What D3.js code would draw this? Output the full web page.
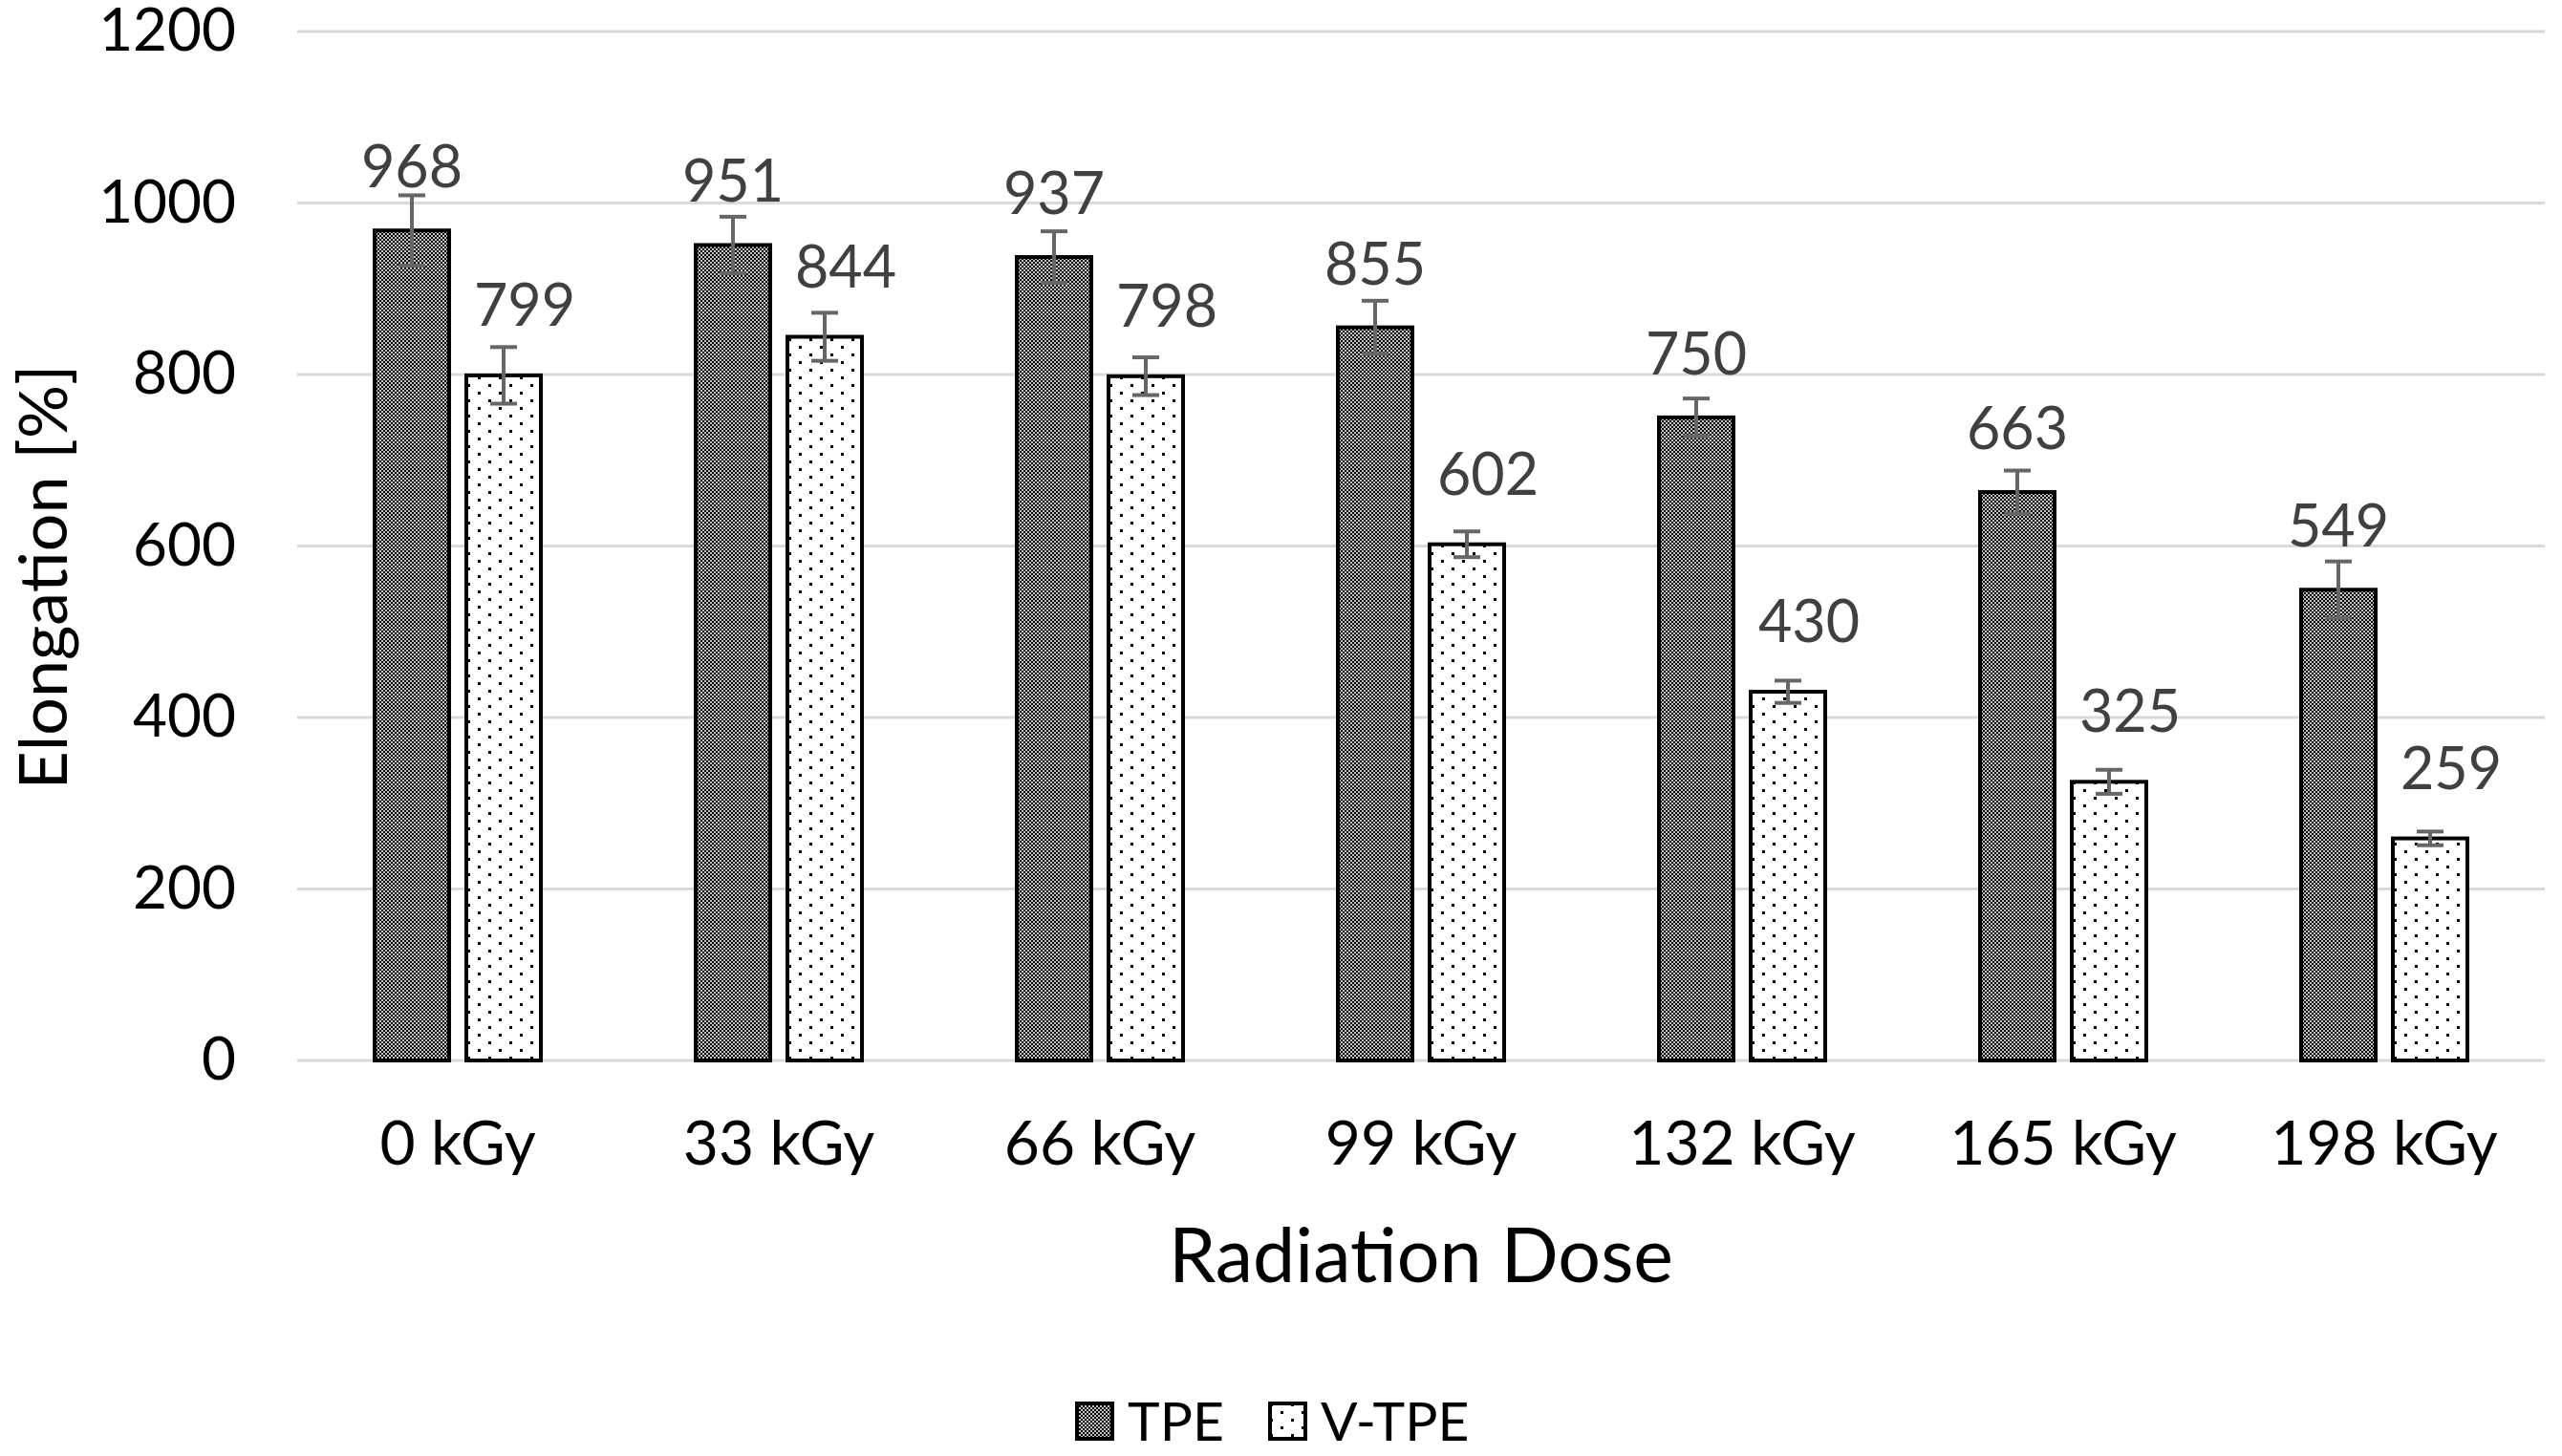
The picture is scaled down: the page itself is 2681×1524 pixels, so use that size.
<!DOCTYPE html>
<html>
<head>
<meta charset="utf-8">
<script src="https://cdnjs.cloudflare.com/ajax/libs/d3/7.8.5/d3.min.js"></script>
<style>
  html, body { margin: 0; padding: 0; background: #fff; }
  text { font-family: Lato, "Open Sans", sans-serif; }
</style>
</head>
<body>
<div id="chart"></div>
<script>
// Elongation vs radiation dose
const categories = ["0 kGy", "33 kGy", "66 kGy", "99 kGy", "132 kGy", "165 kGy", "198 kGy"];
const seriesNames = ["TPE", "V-TPE"];
const tpeValues = [968, 951, 937, 855, 750, 663, 549];
const vtpeValues = [799, 844, 798, 602, 430, 325, 259];
const tpeErrors = [41, 33, 30, 31, 22, 25, 33];
const vtpeErrors = [33, 28, 22, 15, 13, 14, 8];
const yTicks = [0, 200, 400, 600, 800, 1000, 1200];

const width = 2681;
const height = 1524;

const svg = d3.select("#chart")
  .append("svg")
  .attr("width", width)
  .attr("height", height);

const defs = svg.append("defs");

// dark checker fill for TPE
const pTpe = defs.append("pattern")
  .attr("id", "pat-tpe")
  .attr("patternUnits", "userSpaceOnUse")
  .attr("width", 4).attr("height", 4);
pTpe.append("rect").attr("width", 4).attr("height", 4).attr("fill", "#c4c4c4");
pTpe.append("rect").attr("width", 2).attr("height", 2).attr("fill", "#000");
pTpe.append("rect").attr("x", 2).attr("y", 2).attr("width", 2).attr("height", 2).attr("fill", "#000");

// sparse dots for V-TPE
const pV = defs.append("pattern")
  .attr("id", "pat-vtpe")
  .attr("patternUnits", "userSpaceOnUse")
  .attr("width", 22).attr("height", 16);
pV.append("rect").attr("width", 22).attr("height", 16).attr("fill", "#fff");
pV.append("rect").attr("x", 2).attr("y", 2).attr("width", 3).attr("height", 3).attr("fill", "#000");
pV.append("rect").attr("x", 13).attr("y", 10).attr("width", 3).attr("height", 3).attr("fill", "#000");

const fills = { "TPE": "url(#pat-tpe)", "V-TPE": "url(#pat-vtpe)" };

const x0 = d3.scaleBand()
  .domain(categories)
  .range([311, 2663])
  .padding(0);

const x1 = d3.scaleBand()
  .domain(seriesNames)
  .range([81, x0.bandwidth() - 81])
  .paddingInner(0.1875);

const y = d3.scaleLinear()
  .domain([0, 1200])
  .range([1110, 33]);

// gridlines
svg.append("g")
  .selectAll("line")
  .data(yTicks)
  .enter()
  .append("line")
  .attr("x1", 311)
  .attr("x2", 2663)
  .attr("y1", d => y(d))
  .attr("y2", d => y(d))
  .style("stroke", "#d9d9d9")
  .style("stroke-width", 3);

// y axis labels
const yAxis = d3.axisLeft(y).tickValues(yTicks).tickFormat(d3.format("d")).tickSize(0).tickPadding(0);
const gy = svg.append("g")
  .attr("transform", "translate(247,0)")
  .call(yAxis);
gy.select(".domain").remove();
gy.selectAll("text")
  .style("font-family", "Lato, sans-serif")
  .style("font-size", "62px")
  .style("fill", "#000");

// x axis labels
const xAxis = d3.axisBottom(x0).tickSize(0).tickPadding(0);
const gx = svg.append("g")
  .attr("transform", "translate(0,1174)")
  .call(xAxis);
gx.select(".domain").remove();
gx.selectAll("text")
  .style("font-family", "Lato, sans-serif")
  .style("font-size", "64px")
  .style("fill", "#000");

// rows of data
const rows = categories.map((c, i) => ({
  cat: c,
  bars: [
    { s: "TPE", v: tpeValues[i], e: tpeErrors[i] },
    { s: "V-TPE", v: vtpeValues[i], e: vtpeErrors[i] }
  ]
}));

const groups = svg.append("g")
  .selectAll("g")
  .data(rows)
  .enter()
  .append("g")
  .attr("transform", d => "translate(" + x0(d.cat) + ",0)");

groups.selectAll("rect")
  .data(d => d.bars)
  .enter()
  .append("rect")
  .attr("x", d => x1(d.s))
  .attr("y", d => y(d.v))
  .attr("width", x1.bandwidth())
  .attr("height", d => y(0) - y(d.v))
  .style("fill", d => fills[d.s])
  .style("stroke", "#000")
  .style("stroke-width", 4);

// error bars
const err = groups.selectAll("g.err")
  .data(d => d.bars)
  .enter()
  .append("g")
  .attr("class", "err")
  .style("stroke", "#666")
  .style("stroke-width", 4);

const cx = d => x1(d.s) + x1.bandwidth() / 2;

err.append("line")
  .attr("x1", cx).attr("x2", cx)
  .attr("y1", d => y(d.v + d.e))
  .attr("y2", d => y(d.v - d.e));
err.append("line")
  .attr("x1", d => cx(d) - 14).attr("x2", d => cx(d) + 14)
  .attr("y1", d => y(d.v + d.e)).attr("y2", d => y(d.v + d.e));
err.append("line")
  .attr("x1", d => cx(d) - 14).attr("x2", d => cx(d) + 14)
  .attr("y1", d => y(d.v - d.e)).attr("y2", d => y(d.v - d.e));

// data labels
groups.selectAll("text.val")
  .data(d => d.bars)
  .enter()
  .append("text")
  .attr("class", "val")
  .attr("x", d => cx(d) + (d.s === "TPE" ? 0 : 22))
  .attr("y", d => y(d.v) - (d.s === "TPE" ? 45 : 52))
  .attr("text-anchor", "middle")
  .style("font-size", "61px")
  .style("fill", "#404040")
  .text(d => d.v);

// axis titles
svg.append("text")
  .attr("x", 1487)
  .attr("y", 1342)
  .attr("text-anchor", "middle")
  .style("font-size", "79px")
  .style("fill", "#000")
  .text("Radiation Dose");

svg.append("text")
  .attr("transform", "translate(70,604) rotate(-90)")
  .attr("text-anchor", "middle")
  .style("font-size", "70px")
  .style("fill", "#000")
  .text("Elongation [%]");

// legend
const legendX = [1125, 1327];
const legend = svg.append("g")
  .selectAll("g")
  .data(seriesNames)
  .enter()
  .append("g")
  .attr("transform", (d, i) => "translate(" + legendX[i] + ",1467)");

legend.append("rect")
  .attr("x", 2).attr("y", 2)
  .attr("width", 37).attr("height", 37)
  .style("fill", d => fills[d])
  .style("stroke", "#000")
  .style("stroke-width", 4);

legend.append("text")
  .attr("x", 55)
  .attr("y", 41)
  .style("font-size", "57px")
  .style("fill", "#000")
  .text(d => d);
</script>
</body>
</html>
